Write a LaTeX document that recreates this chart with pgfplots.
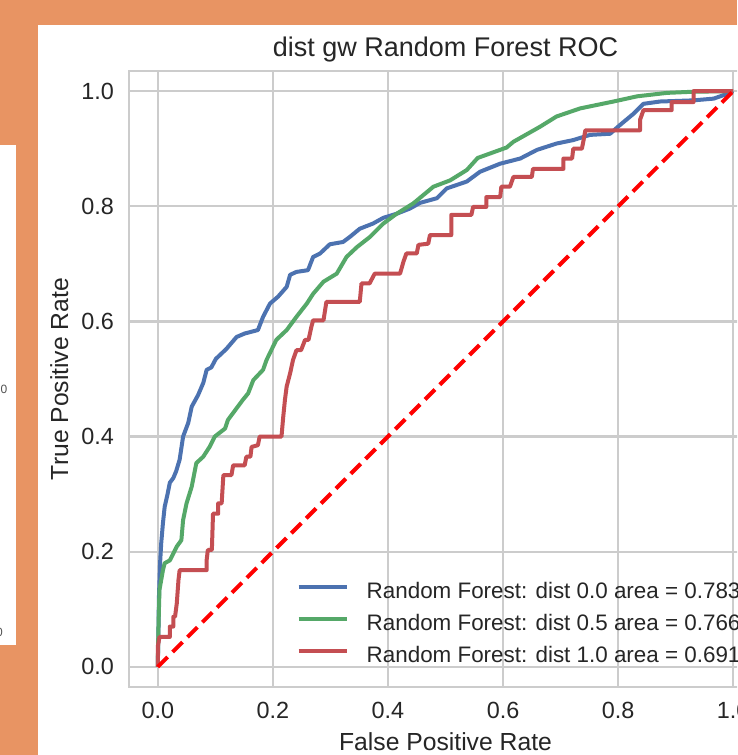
\documentclass[border=0pt]{standalone}
\usepackage{pgfplots}
\pgfplotsset{compat=1.18}
\usepackage{fontspec}
\setmainfont{Liberation Sans}

\definecolor{bgorange}{RGB}{232,148,99}
\definecolor{gridgray}{RGB}{204,204,204}
\definecolor{txt}{RGB}{38,38,38}
\definecolor{sbblue}{RGB}{76,114,176}
\definecolor{sbgreen}{RGB}{85,168,104}
\definecolor{sbred}{RGB}{196,78,82}

\begin{document}
\begin{tikzpicture}
\path[use as bounding box] (0,0) rectangle (737pt,755pt);
\clip (0,0) rectangle (737pt,755pt);
% page behind the figure
\fill[bgorange] (0,0) rectangle (737pt,755pt);
\fill[white] (38pt,0) rectangle (737pt,730pt);
\fill[white] (0,110pt) rectangle (16pt,610pt);
\node[anchor=east, inner sep=0pt, text=txt!80, font=\fontsize{12}{14}\selectfont] at (7.5pt,366pt) {0};
\node[anchor=east, inner sep=0pt, text=txt!80, font=\fontsize{12}{14}\selectfont] at (3pt,123pt) {0};

\begin{axis}[
    at={(129pt,68pt)}, anchor=south west,
    scale only axis, width=633pt, height=616pt,
    xmin=-0.05, xmax=1.05, ymin=-0.035, ymax=1.035,
    xtick={0,0.2,0.4,0.6,0.8,1}, ytick={0,0.2,0.4,0.6,0.8,1},
    /pgf/number format/.cd, fixed, fixed zerofill, precision=1, assume math mode=true, /pgfplots/.cd,
    major tick length=0pt,
    grid=major,
    grid style={gridgray, line width=2.2pt},
    axis line style={gridgray, line width=2.7pt},
    xticklabel style={font=\fontsize{23.4}{28}\selectfont, text=txt, inner sep=0pt, yshift=-15pt},
    yticklabel style={font=\fontsize{23.4}{28}\selectfont, text=txt, inner sep=0pt, xshift=-15pt},
    legend cell align=left,
    legend image code/.code={\draw[#1] (0pt,7pt) -- (48pt,7pt);},
    legend style={draw=none, fill=none, inner sep=0pt, outer sep=0pt,
        at={(0.2650,0.1693)}, anchor=north west,
        nodes={inner sep=0pt, text height=16pt, text depth=6pt},
        row sep=10pt, column sep=18pt,
        font=\fontsize{22.4}{26}\selectfont, text=txt},
    every axis plot/.append style={line width=4pt, line join=round},
]
\addplot[sbblue] coordinates {
(0,0) (0.001,0.05) (0.002,0.12) (0.004,0.18) (0.006,0.215) (0.009,0.25)
(0.012,0.278) (0.017,0.30) (0.021,0.32) (0.027,0.328) (0.032,0.34) (0.038,0.36)
(0.044,0.40) (0.053,0.424) (0.059,0.452) (0.07,0.472) (0.079,0.493) (0.085,0.516)
(0.093,0.52) (0.101,0.535) (0.119,0.552) (0.137,0.573) (0.151,0.579) (0.174,0.585)
(0.183,0.608) (0.195,0.631) (0.209,0.643) (0.224,0.66) (0.23,0.681) (0.241,0.686)
(0.261,0.689) (0.27,0.712) (0.282,0.718) (0.299,0.734) (0.322,0.738) (0.334,0.747)
(0.351,0.761) (0.374,0.77) (0.392,0.78) (0.415,0.787) (0.438,0.796) (0.456,0.806)
(0.485,0.814) (0.502,0.831) (0.537,0.843) (0.56,0.86) (0.595,0.874) (0.63,0.883)
(0.659,0.898) (0.693,0.909) (0.722,0.915) (0.751,0.924) (0.786,0.926) (0.803,0.941)
(0.827,0.961) (0.844,0.978) (0.873,0.982) (0.931,0.984) (0.966,0.987) (0.983,0.993)
(1,1)
};
\addlegendentry{Random Forest: dist 0.0 area = 0.783}
\addplot[sbgreen] coordinates {
(0,0) (0.001,0.06) (0.002,0.099) (0.003,0.134) (0.006,0.151) (0.009,0.168)
(0.012,0.18) (0.021,0.185) (0.027,0.197) (0.033,0.209) (0.041,0.22) (0.044,0.255)
(0.05,0.284) (0.059,0.313) (0.067,0.354) (0.079,0.365) (0.09,0.382) (0.099,0.40)
(0.117,0.414) (0.122,0.429) (0.148,0.464) (0.157,0.475) (0.166,0.498) (0.183,0.516)
(0.189,0.533) (0.206,0.568) (0.224,0.585) (0.241,0.608) (0.259,0.631) (0.27,0.648)
(0.288,0.669) (0.311,0.683) (0.328,0.712) (0.346,0.729) (0.369,0.747) (0.392,0.77)
(0.415,0.787) (0.444,0.805) (0.479,0.834) (0.508,0.845) (0.537,0.863) (0.556,0.884)
(0.606,0.902) (0.618,0.912) (0.664,0.938) (0.693,0.956) (0.734,0.97) (0.792,0.982)
(0.833,0.991) (0.885,0.997) (0.931,0.999) (1,1)
};
\addlegendentry{Random Forest: dist 0.5 area = 0.766}
\addplot[sbred] coordinates {
(0,0) (0,0.035) (0.003,0.052) (0.021,0.052) (0.021,0.07) (0.027,0.07)
(0.027,0.087) (0.03,0.087) (0.033,0.11) (0.036,0.151) (0.038,0.168) (0.085,0.168)
(0.085,0.186) (0.087,0.203) (0.094,0.203) (0.096,0.266) (0.105,0.266) (0.105,0.284)
(0.111,0.284) (0.114,0.333) (0.128,0.333) (0.131,0.35) (0.151,0.35) (0.154,0.365)
(0.161,0.365) (0.163,0.382) (0.174,0.385) (0.177,0.40) (0.215,0.40) (0.218,0.434)
(0.221,0.464) (0.224,0.487) (0.23,0.51) (0.235,0.533) (0.241,0.55) (0.249,0.55)
(0.256,0.568) (0.262,0.568) (0.267,0.591) (0.27,0.602) (0.288,0.602) (0.293,0.634)
(0.351,0.634) (0.354,0.666) (0.368,0.666) (0.377,0.683) (0.421,0.683) (0.427,0.704)
(0.432,0.718) (0.45,0.718) (0.453,0.733) (0.47,0.735) (0.473,0.75) (0.51,0.75)
(0.51,0.785) (0.545,0.785) (0.548,0.799) (0.571,0.799) (0.571,0.816) (0.595,0.816)
(0.597,0.834) (0.612,0.834) (0.618,0.851) (0.65,0.851) (0.652,0.865) (0.705,0.865)
(0.705,0.883) (0.72,0.883) (0.722,0.9) (0.737,0.9) (0.74,0.915) (0.743,0.932)
(0.838,0.932) (0.838,0.95) (0.844,0.967) (0.893,0.967) (0.893,0.981) (0.931,0.981)
(0.931,1) (1,1)
};
\addlegendentry{Random Forest: dist 1.0 area = 0.691}
\addplot[red, dash pattern=on 14pt off 7pt, forget plot] coordinates {(0,0) (1,1)};
\end{axis}

\node[anchor=base, text=txt, font=\fontsize{27}{32}\selectfont] at (445.5pt,698pt) {dist gw Random Forest ROC};
\node[anchor=base, text=txt, font=\fontsize{24.7}{30}\selectfont] at (445.5pt,5pt) {False Positive Rate};
\node[anchor=base, rotate=90, text=txt, font=\fontsize{24.7}{30}\selectfont] at (68pt,376pt) {True Positive Rate};
\end{tikzpicture}
\end{document}
